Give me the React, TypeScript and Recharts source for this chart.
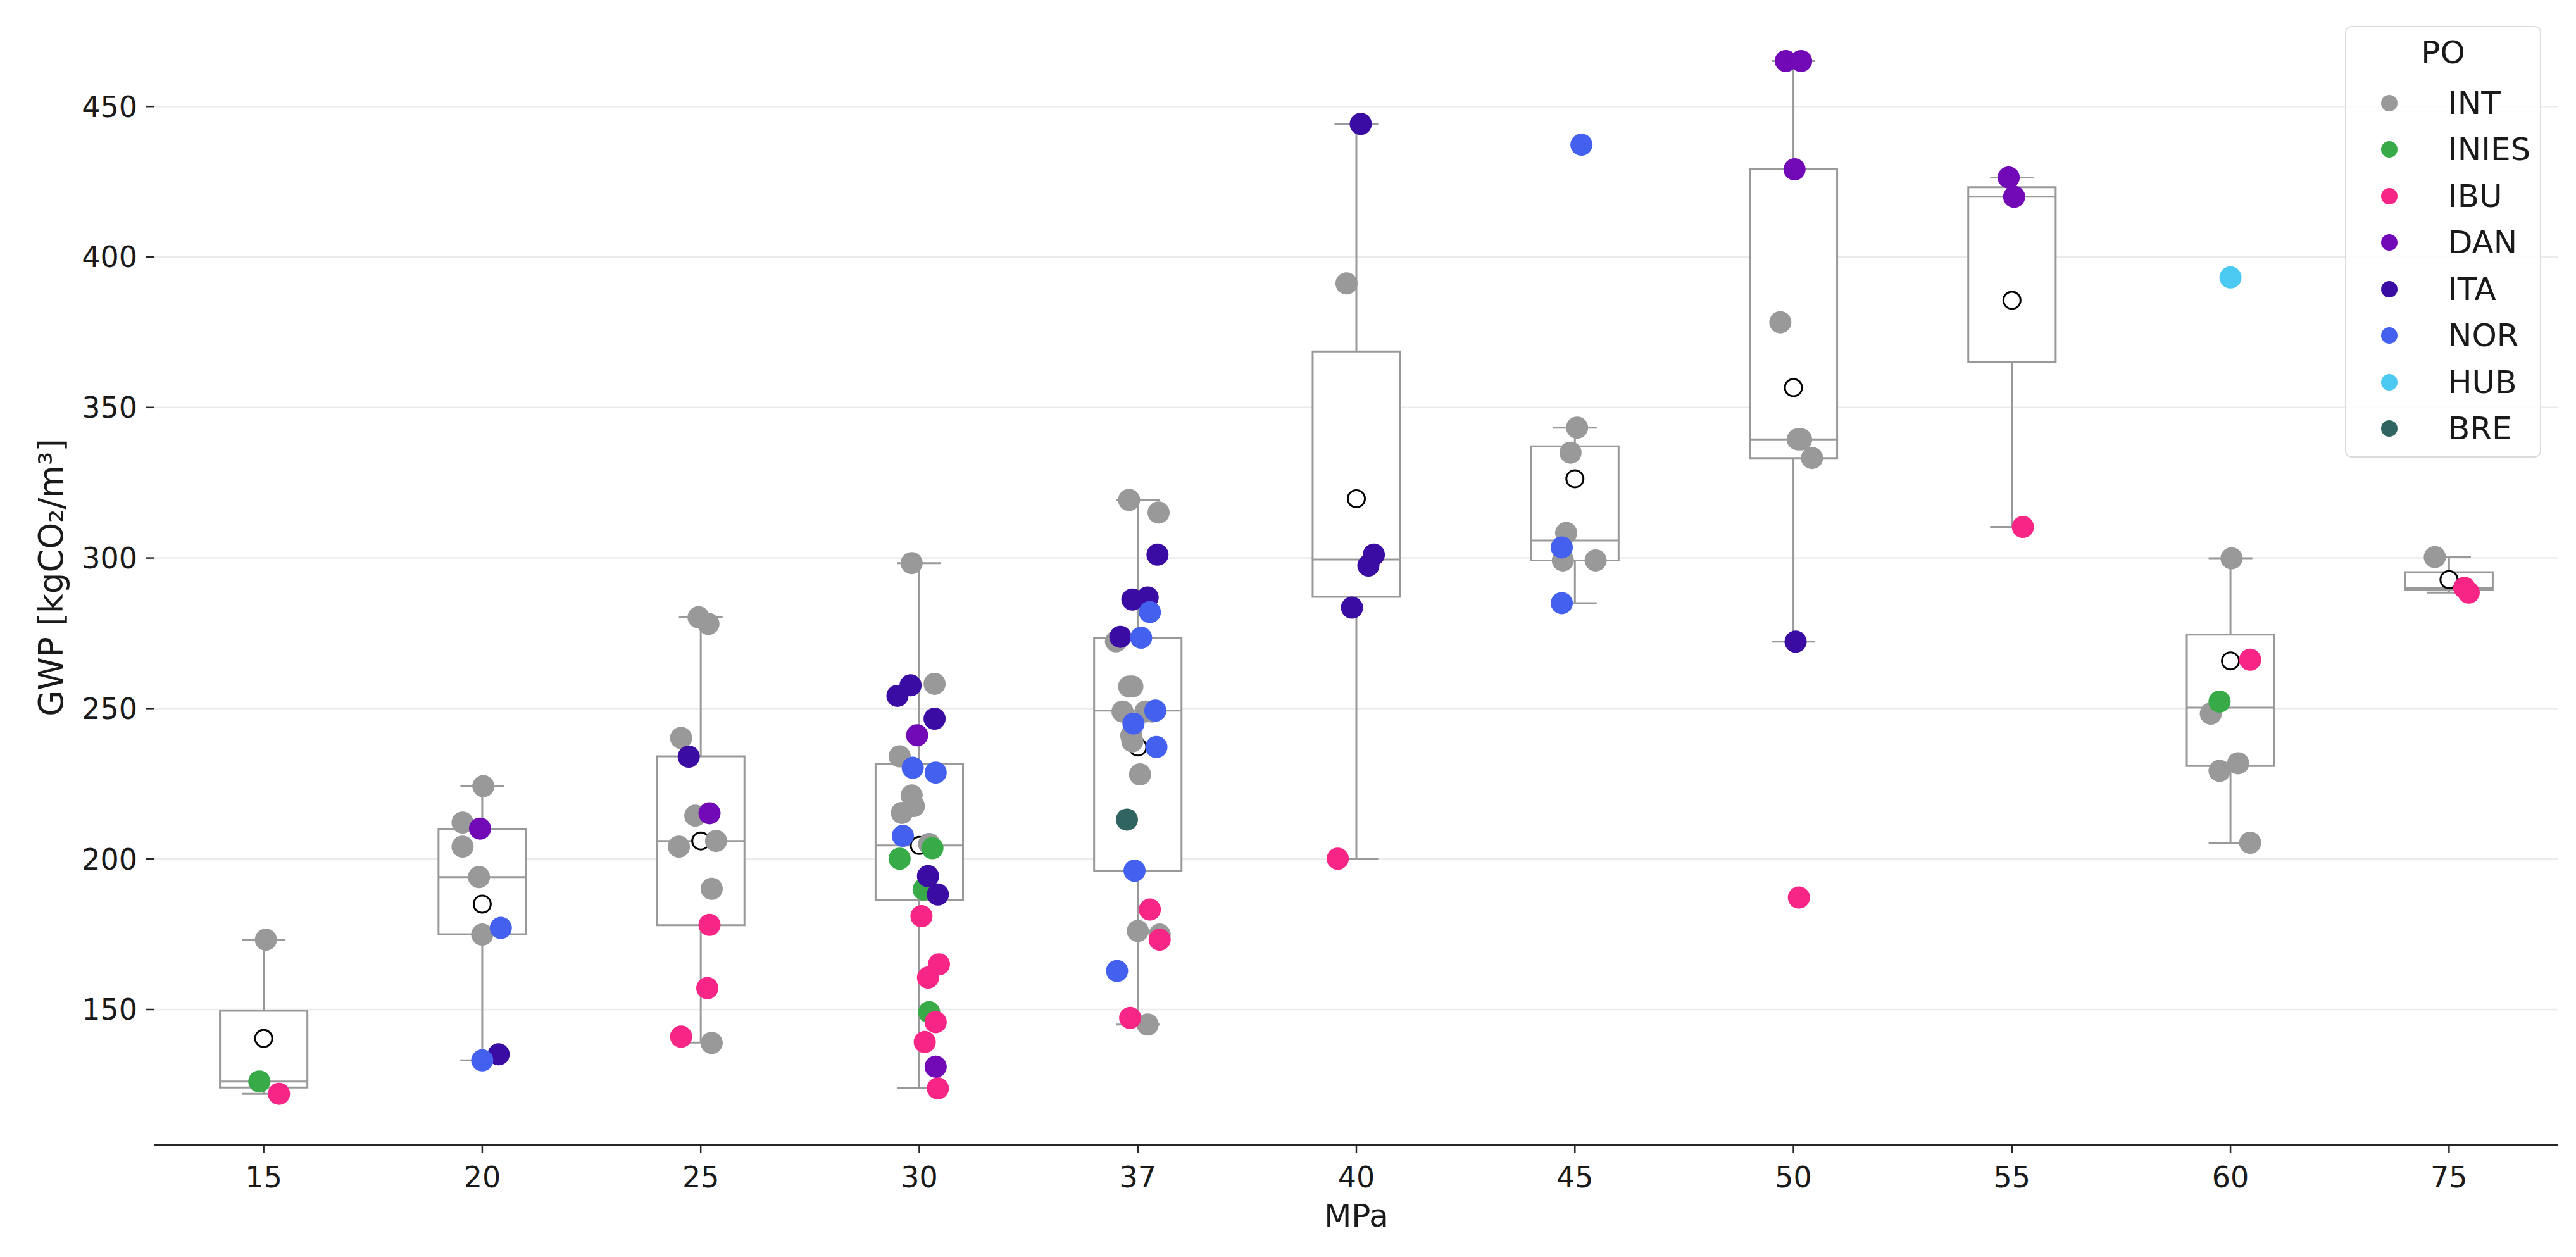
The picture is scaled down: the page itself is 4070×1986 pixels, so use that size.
import { ComposedChart, Scatter, XAxis, YAxis, CartesianGrid, ReferenceArea, ReferenceLine, Legend } from 'recharts'

const FONT = '"DejaVu Sans", Verdana, sans-serif'

const CATEGORIES = ['15', '20', '25', '30', '37', '40', '45', '50', '55', '60', '75']
const Y_TICKS = [150, 200, 250, 300, 350, 400, 450]

// box statistics per MPa class
const Q1 = [124.1, 175, 178, 186.3, 196.1, 287.1, 299.2, 333.2, 365.2, 230.9, 289.3]
const MEDIAN = [126.1, 194, 206, 204.5, 249.3, 299.5, 305.8, 339.4, 420, 250.3, 290.1]
const Q3 = [149.6, 210, 234.1, 231.5, 273.5, 368.6, 337.1, 429.1, 423.2, 274.5, 295.3]
const WHISKER_LOW = [122, 133.1, 139, 123.8, 145, 200, 285, 272.2, 310.3, 205.4, 288.5]
const WHISKER_HIGH = [173.2, 224.2, 280.3, 298.3, 319.3, 444.2, 343.3, 465.1, 426.4, 299.9, 300.3]
const MEANS = [140.4, 185, 206, 204.5, 237.2, 319.7, 326.3, 356.6, 385.6, 265.8, 292.8]

const PO_GROUPS = ['INT', 'INIES', 'IBU', 'DAN', 'ITA', 'NOR', 'HUB', 'BRE']
const PO_COLORS: Record<string, string> = {
  INT: '#999999',
  INIES: '#38aa48',
  IBU: '#f72585',
  DAN: '#7209b7',
  ITA: '#3a0ca3',
  NOR: '#4361ee',
  HUB: '#4cc9f0',
  BRE: '#2f6460',
}

// [MPa, jitter, GWP]
type Pt = [string, number, number]

const INT: Pt[] = [
  ['15', 0.01, 173.2],
  ['20', 0.005, 224.2], ['20', -0.09, 212.1], ['20', -0.09, 204.1], ['20', -0.015, 194], ['20', 0, 174.9],
  ['25', -0.01, 280.3], ['25', 0.035, 278.1], ['25', -0.09, 240.2], ['25', -0.025, 214.4], ['25', 0.07, 206],
  ['25', -0.1, 204.1], ['25', 0.05, 190.1], ['25', 0.05, 138.9],
  ['30', -0.035, 298.3], ['30', 0.07, 258.2], ['30', -0.09, 234.1], ['30', -0.035, 221.1], ['30', -0.025, 217.6],
  ['30', -0.08, 215.3], ['30', 0.045, 205],
  ['37', -0.04, 319.3], ['37', 0.095, 315.1], ['37', -0.1, 272.3], ['37', -0.04, 257.3], ['37', -0.025, 257.3],
  ['37', -0.07, 249], ['37', 0.035, 249], ['37', 0.065, 249], ['37', -0.03, 241], ['37', -0.025, 239.1],
  ['37', 0.01, 228.1], ['37', 0, 176.1], ['37', 0.1, 174.9], ['37', 0.045, 145],
  ['40', -0.045, 391.2],
  ['45', 0.01, 343.3], ['45', -0.02, 335], ['45', -0.04, 308.3], ['45', -0.055, 299.2], ['45', 0.095, 299.2],
  ['50', -0.06, 378.3], ['50', 0.02, 339.4], ['50', 0.035, 339.4], ['50', 0.085, 333.2],
  ['60', 0.005, 299.9], ['60', -0.09, 248.3], ['60', 0.035, 231.8], ['60', -0.05, 229.3], ['60', 0.09, 205.4],
  ['75', -0.065, 300.3],
]
const INIES: Pt[] = [
  ['15', -0.02, 126.1],
  ['30', 0.06, 203.6], ['30', -0.09, 200.1], ['30', 0.02, 189.9], ['30', 0.045, 149.1],
  ['60', -0.05, 252.3],
]
const IBU: Pt[] = [
  ['15', 0.07, 122],
  ['25', 0.04, 178.1], ['25', 0.03, 157.1], ['25', -0.09, 141],
  ['30', 0.01, 181], ['30', 0.09, 165], ['30', 0.04, 160.6], ['30', 0.075, 145.8], ['30', 0.025, 139.2], ['30', 0.085, 123.8],
  ['37', 0.055, 183.2], ['37', 0.1, 173.2], ['37', -0.035, 147.2],
  ['40', -0.085, 200.1],
  ['50', 0.025, 187.2],
  ['55', 0.05, 310.3],
  ['60', 0.09, 266.2],
  ['75', 0.07, 290.1], ['75', 0.09, 288.5],
]
const DAN: Pt[] = [
  ['20', -0.01, 210.1],
  ['25', 0.04, 215.2],
  ['30', -0.01, 241.1], ['30', 0.075, 131],
  ['50', -0.035, 465.1], ['50', 0.035, 465.1], ['50', 0.005, 429.1],
  ['55', -0.015, 426.4], ['55', 0.01, 420],
]
const ITA: Pt[] = [
  ['20', 0.075, 135.1],
  ['25', -0.055, 234],
  ['30', -0.04, 257.7], ['30', -0.1, 254.2], ['30', 0.07, 246.6], ['30', 0.04, 194.3], ['30', 0.085, 188.2],
  ['37', 0.09, 301.1], ['37', -0.025, 286.2], ['37', 0.045, 286.9], ['37', -0.08, 273.8],
  ['40', 0.02, 444.2], ['40', 0.08, 301.1], ['40', 0.055, 297.5], ['40', -0.02, 283.5],
  ['50', 0.01, 272.2],
]
const NOR: Pt[] = [
  ['20', 0.085, 177.1], ['20', 0, 133.1],
  ['30', -0.03, 230.3], ['30', 0.075, 228.7], ['30', -0.075, 207.7],
  ['37', 0.055, 282], ['37', 0.015, 273.5], ['37', 0.08, 249.3], ['37', -0.02, 245], ['37', 0.085, 237.2],
  ['37', -0.015, 196.1], ['37', -0.095, 162.8],
  ['45', 0.03, 437.3], ['45', -0.06, 303.5], ['45', -0.06, 285],
]
const HUB: Pt[] = [['60', 0, 393.2]]
const BRE: Pt[] = [['37', -0.05, 213.1]]

const POINTS: Record<string, Pt[]> = { INT, INIES, IBU, DAN, ITA, NOR, HUB, BRE }

const toXY = (pts: Pt[]) => pts.map(([mpa, jitter, gwp]) => ({ x: CATEGORIES.indexOf(mpa) + jitter, y: gwp }))
const meanData = MEANS.map((m, i) => ({ x: i, y: m }))

const BOX_HALF = 0.2
const CAP_HALF = 0.1
const BOX_COLOR = '#999999'
const AXIS_COLOR = '#262626'

function PoLegend() {
  return (
    <div
      style={{
        boxSizing: 'border-box',
        width: 310,
        height: 682,
        border: '2.5px solid #dcdcdc',
        borderRadius: 10,
        background: 'rgba(255,255,255,0.85)',
        fontFamily: FONT,
        fontSize: 50,
        color: '#1a1a1a',
        paddingTop: 10,
      }}
    >
      <div style={{ textAlign: 'center', height: 60, lineHeight: '60px' }}>PO</div>
      <div style={{ height: 13 }} />
      {PO_GROUPS.map(g => (
        <div key={g} style={{ display: 'flex', alignItems: 'center', height: 73.5 }}>
          <svg width={26} height={26} style={{ marginLeft: 55, marginRight: 80 }}>
            <circle cx={13} cy={13} r={13} fill={PO_COLORS[g]} />
          </svg>
          <span>{g}</span>
        </div>
      ))}
    </div>
  )
}

export default function App() {
  return (
    <div style={{ width: 4070, height: 1986, background: '#fff' }}>
      <style>{'body{margin:0}'}</style>
      <ComposedChart width={4070} height={1986} margin={{ top: 16, right: 28, left: 0, bottom: 0 }}>
        <CartesianGrid vertical={false} horizontalValues={Y_TICKS} stroke="#ebebeb" strokeWidth={2.5} />
        <XAxis
          type="number"
          dataKey="x"
          domain={[-0.5, CATEGORIES.length - 0.5]}
          ticks={CATEGORIES.map((_, i) => i)}
          tickFormatter={(v: number) => CATEGORIES[v]}
          height={177}
          axisLine={{ stroke: AXIS_COLOR, strokeWidth: 3 }}
          tickLine={{ stroke: AXIS_COLOR, strokeWidth: 2.5 }}
          tickSize={13}
          tickMargin={21}
          tick={{ fontSize: 46, fill: '#1a1a1a', fontFamily: FONT }}
          allowDataOverflow
          label={{
            content: (props: any) => {
              const vb = props.viewBox
              return (
                <text x={vb.x + vb.width / 2} y={vb.y + 112} textAnchor="middle" dominantBaseline="central"
                  fontSize={50} fontFamily={FONT} fill="#1a1a1a">MPa</text>
              )
            },
          }}
        />
        <YAxis
          type="number"
          dataKey="y"
          domain={[105, 482]}
          ticks={Y_TICKS}
          width={244}
          axisLine={false}
          tickLine={{ stroke: AXIS_COLOR, strokeWidth: 2.5 }}
          tickSize={13}
          tickMargin={14}
          tick={{ fontSize: 46, fill: '#1a1a1a', fontFamily: FONT }}
          allowDataOverflow
          label={{
            content: (props: any) => {
              const vb = props.viewBox
              const cx = vb.x + 80
              const cy = vb.y + vb.height / 2
              return (
                <text x={cx} y={cy} textAnchor="middle" dominantBaseline="central" transform={`rotate(-90, ${cx}, ${cy})`}
                  fontSize={53} fontFamily={FONT} fill="#1a1a1a">GWP [kgCO₂/m³]</text>
              )
            },
          }}
        />

        {CATEGORIES.map((c, i) => (
          <ReferenceLine key={`wl-${c}`} segment={[{ x: i, y: WHISKER_LOW[i] }, { x: i, y: Q1[i] }]} stroke={BOX_COLOR} strokeWidth={3} />
        ))}
        {CATEGORIES.map((c, i) => (
          <ReferenceLine key={`wh-${c}`} segment={[{ x: i, y: Q3[i] }, { x: i, y: WHISKER_HIGH[i] }]} stroke={BOX_COLOR} strokeWidth={3} />
        ))}
        {CATEGORIES.map((c, i) => (
          <ReferenceLine key={`cl-${c}`} segment={[{ x: i - CAP_HALF, y: WHISKER_LOW[i] }, { x: i + CAP_HALF, y: WHISKER_LOW[i] }]} stroke={BOX_COLOR} strokeWidth={3} />
        ))}
        {CATEGORIES.map((c, i) => (
          <ReferenceLine key={`ch-${c}`} segment={[{ x: i - CAP_HALF, y: WHISKER_HIGH[i] }, { x: i + CAP_HALF, y: WHISKER_HIGH[i] }]} stroke={BOX_COLOR} strokeWidth={3} />
        ))}
        {CATEGORIES.map((c, i) => (
          <ReferenceArea key={`box-${c}`} x1={i - BOX_HALF} x2={i + BOX_HALF} y1={Q1[i]} y2={Q3[i]}
            fill="#ffffff" fillOpacity={1} stroke={BOX_COLOR} strokeWidth={3} />
        ))}
        {CATEGORIES.map((c, i) => (
          <ReferenceLine key={`md-${c}`} segment={[{ x: i - BOX_HALF, y: MEDIAN[i] }, { x: i + BOX_HALF, y: MEDIAN[i] }]} stroke={BOX_COLOR} strokeWidth={3} />
        ))}

        <Scatter
          name="mean"
          data={meanData}
          isAnimationActive={false}
          legendType="none"
          shape={(p: any) => <circle cx={p.cx} cy={p.cy} r={13.5} fill="#ffffff" stroke="#000000" strokeWidth={3} />}
        />
        {PO_GROUPS.map(g => (
          <Scatter
            key={g}
            name={g}
            data={toXY(POINTS[g])}
            fill={PO_COLORS[g]}
            isAnimationActive={false}
            shape={(p: any) => <circle cx={p.cx} cy={p.cy} r={17.5} fill={PO_COLORS[g]} />}
          />
        ))}

        <Legend
          layout="horizontal"
          verticalAlign="middle"
          align="center"
          content={() => <PoLegend />}
          wrapperStyle={{ top: 41, left: 3705, width: 310, height: 682 }}
        />
      </ComposedChart>
    </div>
  )
}
